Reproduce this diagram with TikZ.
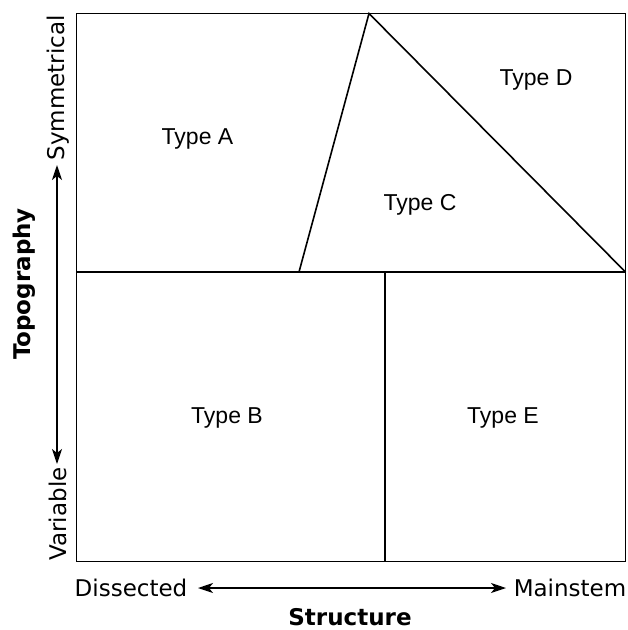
\documentclass[tikz,border=0pt]{standalone}
\usepackage{fontspec}
\setmainfont{DejaVu Sans}
\newfontfamily\arialf{Liberation Sans}
\usetikzlibrary{arrows.meta}
\begin{document}
\begin{tikzpicture}[x=1pt,y=-1pt,
  region/.style={line width=1.6pt, line join=miter},
  typelbl/.style={font=\arialf\fontsize{23}{27}\selectfont, inner sep=0pt},
  axlbl/.style={font=\fontsize{23}{27}\selectfont, inner sep=0pt},
  axtitle/.style={font=\bfseries\fontsize{23}{27}\selectfont, inner sep=0pt},
  axarrow/.style={line width=1.4pt, {Stealth[length=15pt,width=10pt,inset=4pt]}-{Stealth[length=15pt,width=10pt,inset=4pt]}}]
\useasboundingbox (0,0) rectangle (628,630);
% frame corners
\coordinate (tl) at (76.5,13.5);
\coordinate (tr) at (625.5,13.5);
\coordinate (br) at (625.5,561.5);
\coordinate (bl) at (76.5,561.5);
\coordinate (ml) at (76.5,272);
\coordinate (mr) at (625.5,272);
\coordinate (apex) at (369,13.5);
\coordinate (tbase) at (299,272);
\coordinate (vtop) at (385,272);
\coordinate (vbot) at (385,561.5);
\draw[region] (tl) -- (tr) -- (br) -- (bl) -- cycle;
\draw[region] (ml) -- (mr);
\draw[region] (tbase) -- (apex) -- (mr);
\draw[region] (vtop) -- (vbot);
% type labels
\node[typelbl] (A) at (197.5,139) {Type A};
\node[typelbl] (C) at (420,205) {Type C};
\node[typelbl] (D) at (536,80) {Type D};
\node[typelbl] (B) at (227,418) {Type B};
\node[typelbl] (E) at (503,418) {Type E};
% axes
\node[axlbl] (dis) at (131,588) {Dissected};
\node[axlbl] (main) at (570,588) {Mainstem};
\node[axtitle] (struct) at (350,617) {Structure};
\node[axlbl, rotate=90] (sym) at (58,88) {Symmetrical};
\node[axlbl, rotate=90] (var) at (58,514) {Variable};
\node[axtitle, rotate=90] (topo) at (24,284) {Topography};
\coordinate (hl) at (198,588);
\coordinate (hr) at (506,588);
\coordinate (vt) at (57,165);
\coordinate (vb) at (57,464);
\draw[axarrow] (hl) -- (hr);
\draw[axarrow] (vt) -- (vb);
\end{tikzpicture}
\end{document}
